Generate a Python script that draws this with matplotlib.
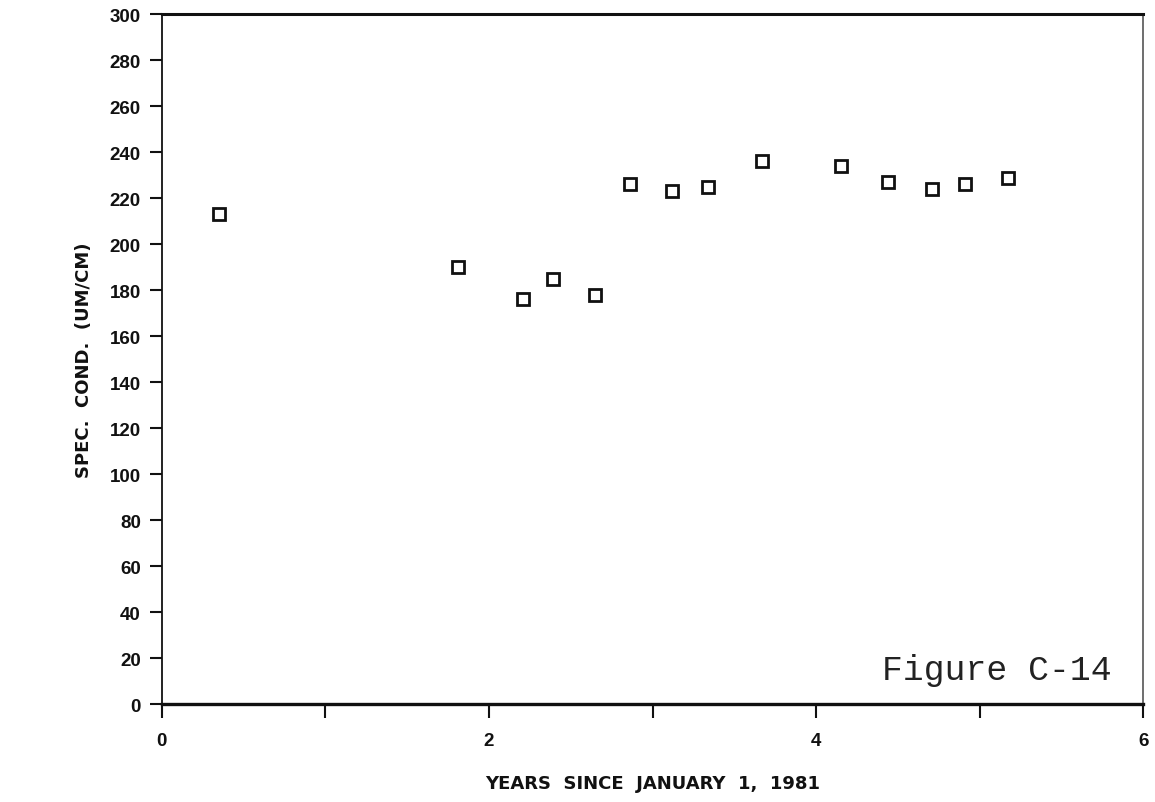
import matplotlib.pyplot as plt
from matplotlib.ticker import MultipleLocator

# sampling dates (years since 1981-01-01) and specific conductance
years = [0.35, 1.81, 2.21, 2.39, 2.65, 2.86, 3.12, 3.34, 3.67, 4.15, 4.44, 4.71, 4.91, 5.17]
spec_cond = [213, 190, 176, 185, 178, 226, 223, 225, 236, 234, 227, 224, 226, 229]

x_ticks = [0, 2, 4, 6]
y_ticks = list(range(0, 301, 20))

plt.rcParams['font.family'] = ['Liberation Sans', 'DejaVu Sans']

fig = plt.figure(figsize=(11.55, 8.03), dpi=100)
ax = fig.add_axes([0.140, 0.122, 0.850, 0.859])

ax.plot(years, spec_cond, linestyle='none', marker='s', markersize=8.5,
        markerfacecolor='white', markeredgecolor='#111111', markeredgewidth=2.0)

ax.set_xlim(0, 6)
ax.set_ylim(0, 300)
ax.set_xticks(x_ticks)
ax.xaxis.set_minor_locator(MultipleLocator(1))
ax.set_yticks(y_ticks)

ax.tick_params(axis='both', which='both', direction='out', colors='#111111',
               labelsize=13.5, width=1.5)
ax.tick_params(axis='y', length=9, pad=6)
ax.tick_params(axis='x', which='major', length=10, pad=10)
ax.tick_params(axis='x', which='minor', length=10)
for lbl in ax.get_xticklabels() + ax.get_yticklabels():
    lbl.set_fontweight('bold')

ax.spines['bottom'].set_linewidth(2.4)
ax.spines['top'].set_linewidth(2.2)
ax.spines['left'].set_linewidth(1.3)
ax.spines['right'].set_linewidth(1.2)
ax.spines['right'].set_color('#555555')
for s in ['bottom', 'top', 'left']:
    ax.spines[s].set_color('#111111')

ax.set_ylabel('SPEC.  COND.  (UM/CM)', fontsize=13, fontweight='bold',
              family='DejaVu Sans', labelpad=12, color='#111111')
ax.set_xlabel('YEARS  SINCE  JANUARY  1,  1981', fontsize=13, fontweight='bold',
              family='DejaVu Sans', labelpad=18, color='#111111')

ax.text(0.968, 0.05, 'Figure C-14', transform=ax.transAxes, ha='right', va='center',
        fontsize=25, family='Liberation Mono', color='#222222')

fig.savefig('out.png', dpi=100, facecolor='white')
